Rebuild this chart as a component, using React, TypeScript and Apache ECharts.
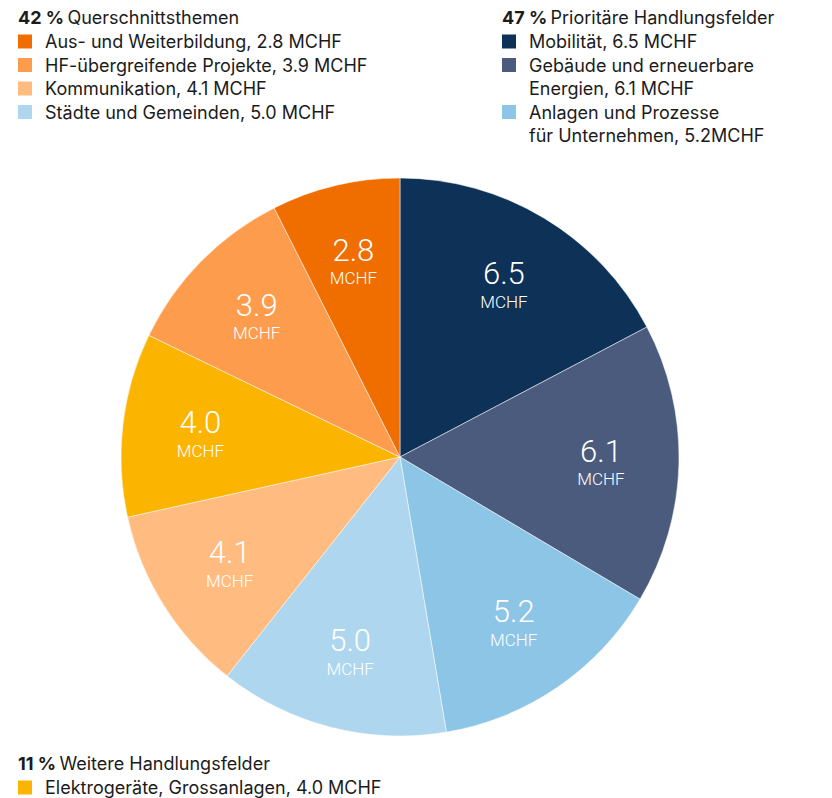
import React, { useEffect, useRef } from "react";
import * as echarts from "echarts";

const names = [
  "Mobilität",
  "Gebäude und erneuerbare Energien",
  "Anlagen und Prozesse für Unternehmen",
  "Städte und Gemeinden",
  "Kommunikation",
  "Elektrogeräte, Grossanlagen",
  "HF-übergreifende Projekte",
  "Aus- und Weiterbildung",
];
const values = [6.5, 6.1, 5.2, 5.0, 4.1, 4.0, 3.9, 2.8];
const colors = ["#0d3157", "#4b5b7d", "#8cc5e6", "#aed7ef", "#ffbb80", "#fbb400", "#fe9c4d", "#f06d00"];

const groupTitles = [
  { pct: "42 %", label: "Querschnittsthemen" },
  { pct: "47 %", label: "Prioritäre Handlungsfelder" },
  { pct: "11 %", label: "Weitere Handlungsfelder" },
];
// legend entries: index into series + text lines
const group1 = [
  { i: 7, lines: ["Aus- und Weiterbildung, 2.8 MCHF"] },
  { i: 6, lines: ["HF-übergreifende Projekte, 3.9 MCHF"] },
  { i: 4, lines: ["Kommunikation, 4.1 MCHF"] },
  { i: 3, lines: ["Städte und Gemeinden, 5.0 MCHF"] },
];
const group2 = [
  { i: 0, lines: ["Mobilität, 6.5 MCHF"] },
  { i: 1, lines: ["Gebäude und erneuerbare", "Energien, 6.1 MCHF"] },
  { i: 2, lines: ["Anlagen und Prozesse", "für Unternehmen, 5.2MCHF"] },
];
const group3 = [{ i: 5, lines: ["Elektrogeräte, Grossanlagen, 4.0 MCHF"] }];

const FONT = "Inter, 'Noto Sans', sans-serif";
const LFONT = "Roboto, 'Liberation Sans', Arial, sans-serif";
const TXT = "#1b1b1b";

function legendBlock(x: number, y: number, title: { pct: string; label: string }, items: { i: number; lines: string[] }[]) {
  const els: any[] = [];
  els.push({
    type: "text",
    x,
    y,
    style: {
      text: `{b|${title.pct}} {n|${title.label}}`,
      rich: {
        b: { fontFamily: FONT, fontSize: 18, fontWeight: 700, fill: TXT },
        n: { fontFamily: FONT, fontSize: 18, fontWeight: 400, fill: TXT },
      },
      textVerticalAlign: "middle",
    },
  });
  let row = 1;
  const step = 23.5;
  items.forEach((it) => {
    const cy = y + row * step + 1;
    els.push({
      type: "rect",
      shape: { x, y: cy - 7, width: 14, height: 14 },
      style: { fill: colors[it.i] },
    });
    it.lines.forEach((ln, k) => {
      els.push({
        type: "text",
        x: x + 27,
        y: cy + k * step,
        style: {
          text: ln,
          fontFamily: FONT,
          fontSize: 18,
          fill: TXT,
          textVerticalAlign: "middle",
        },
      });
    });
    row += it.lines.length;
  });
  return els;
}

export default function App() {
  const ref = useRef<HTMLDivElement>(null);
  useEffect(() => {
    if (!ref.current) return;
    const chart = echarts.init(ref.current, null, { renderer: "svg" });
    const data = names.map((n, i) => ({ name: n, value: values[i], itemStyle: { color: colors[i] } }));
    const center = [400, 457];
    chart.setOption({
      animation: false,
      backgroundColor: "#ffffff",
      series: [
        {
          type: "pie",
          center,
          radius: [0, 279],
          startAngle: 90,
          clockwise: true,
          data,
          label: { show: false },
          labelLine: { show: false },
          itemStyle: { borderColor: "#ffffff", borderWidth: 0.5 },
          emphasis: { disabled: true },
          silent: true,
        },
        {
          type: "pie",
          center,
          radius: [117, 279],
          startAngle: 90,
          clockwise: true,
          data: data.map((d) => ({ name: d.name, value: d.value, itemStyle: { color: "rgba(0,0,0,0)" } })),
          label: {
            show: true,
            position: "inside",
            formatter: (p: any) => `{v|${p.value.toFixed(1)}}\n{u|MCHF}`,
            rich: {
              v: { fontFamily: LFONT, fontSize: 31, fontWeight: 300, color: "#ffffff", lineHeight: 34, align: "center" },
              u: { fontFamily: LFONT, fontSize: 17, fontWeight: 300, color: "#ffffff", lineHeight: 22, align: "center" },
            },
          },
          labelLine: { show: false },
          emphasis: { disabled: true },
          silent: true,
        },
      ],
      graphic: [
        ...legendBlock(18, 17, groupTitles[0], group1),
        ...legendBlock(502, 17, groupTitles[1], group2),
        ...legendBlock(18, 763, groupTitles[2], group3),
      ],
    });
    return () => chart.dispose();
  }, []);
  return <div ref={ref} style={{ position: "absolute", left: 0, top: 0, width: 832, height: 798 }} />;
}
